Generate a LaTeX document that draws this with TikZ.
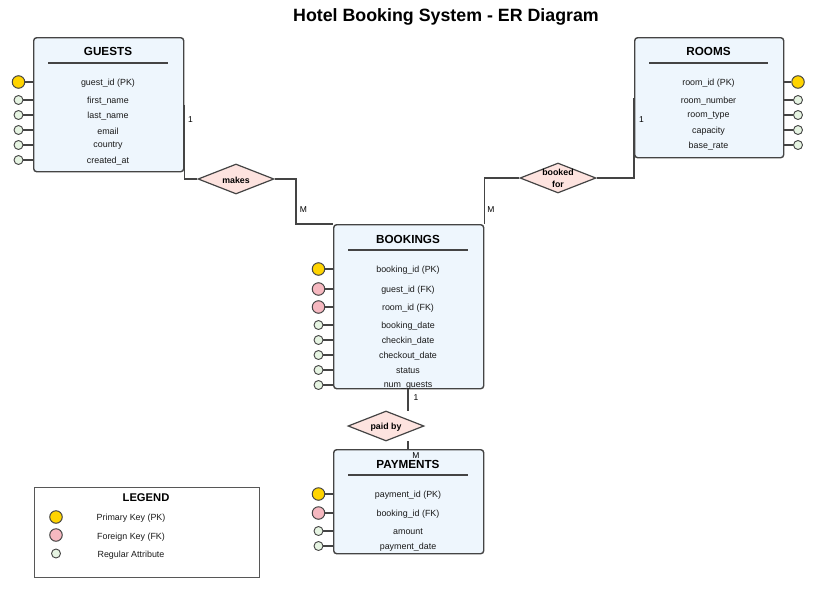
\documentclass[tikz,border=0pt]{standalone}
\usepackage{fontspec}
\setmainfont{Liberation Sans}
\usetikzlibrary{shapes.geometric,calc}
\definecolor{boxfill}{HTML}{EEF6FD}
\definecolor{edge}{HTML}{444444}
\definecolor{relfill}{HTML}{FDE3DF}
\definecolor{pkfill}{HTML}{FFD400}
\definecolor{fkfill}{HTML}{F6B8C0}
\definecolor{rafill}{HTML}{E6F4E2}
\definecolor{txt}{HTML}{1A1A1A}
\begin{document}
\begin{tikzpicture}[x=1pt,y=-1pt,
  entity/.style={draw=edge, fill=boxfill, line width=1.4pt, rounded corners=3pt, anchor=north west, minimum width=150pt, inner sep=0pt},
  etitle/.style={font=\bfseries\fontsize{11.7}{13}\selectfont, text=black, inner sep=0pt},
  sepline/.style={draw=edge, line width=1.2pt},
  attr/.style={font=\fontsize{8.9}{10}\selectfont, text=txt, inner sep=0pt},
  pkdot/.style={circle, draw=edge, fill=pkfill, line width=1pt, minimum size=12.5pt, inner sep=0pt},
  fkdot/.style={circle, draw=edge, fill=fkfill, line width=1pt, minimum size=12.5pt, inner sep=0pt},
  radot/.style={circle, draw=edge, fill=rafill, line width=0.9pt, minimum size=9pt, inner sep=0pt},
  conn/.style={draw=edge, line width=1.4pt},
  stub/.style={draw=edge, line width=1.2pt},
  rel/.style={diamond, draw=edge, fill=relfill, line width=1.2pt, minimum width=76pt, minimum height=30pt, inner sep=0pt},
  reltext/.style={font=\bfseries\fontsize{8.8}{12.5}\selectfont, align=center, inner sep=0pt},
  card/.style={font=\fontsize{8.5}{10}\selectfont, text=black, inner sep=0pt}
]
\useasboundingbox (0,0) rectangle (840,600);

% Title
\node[font=\bfseries\fontsize{17.8}{20}\selectfont, inner sep=0pt] (title) at (446,16.5) {Hotel Booking System - ER Diagram};

% ---------------- relationships (behind) ----------------
\node[rel] (makes) at (236,179) {};
\node[reltext] (makesT) at (236,180) {makes};
\node[rel] (booked) at (558,178) {};
\node[reltext] (bookedT) at (558,178.5) {booked\\for};
\node[rel] (paid) at (386,426) {};
\node[reltext] (paidT) at (386,427) {paid by};

% ---------------- GUESTS ----------------
\node[entity, minimum height=134pt] (guests) at (33,37) {};
\node[etitle] (guestsT) at (108,51.5) {GUESTS};
\draw[sepline] (48,63) -- (168,63);
\node[attr] (g1) at (108,83) {guest\_id (PK)};
\node[attr] (g2) at (108,101) {first\_name};
\node[attr] (g3) at (108,116) {last\_name};
\node[attr] (g4) at (108,131) {email};
\node[attr] (g5) at (108,146) {country};
\node[attr] (g6) at (108,161) {created\_at};
\node[pkdot] (gc1) at (18.5,82) {};
\node[radot] (gc2) at (18.5,100) {};
\node[radot] (gc3) at (18.5,115) {};
\node[radot] (gc4) at (18.5,130) {};
\node[radot] (gc5) at (18.5,145) {};
\node[radot] (gc6) at (18.5,160) {};
\foreach \c in {gc1,gc2,gc3,gc4,gc5,gc6} \draw[stub] (\c) -- (\c -| guests.west);

% ---------------- ROOMS ----------------
\node[entity, minimum width=149pt, minimum height=120pt] (rooms) at (634,37) {};
\node[etitle] (roomsT) at (708.5,51.5) {ROOMS};
\draw[sepline] (649,63) -- (768,63);
\node[attr] (r1) at (708.5,83) {room\_id (PK)};
\node[attr] (r2) at (708.5,101) {room\_number};
\node[attr] (r3) at (708.5,116) {room\_type};
\node[attr] (r4) at (708.5,131) {capacity};
\node[attr] (r5) at (708.5,146) {base\_rate};
\node[pkdot] (rc1) at (798,82) {};
\node[radot] (rc2) at (798,100) {};
\node[radot] (rc3) at (798,115) {};
\node[radot] (rc4) at (798,130) {};
\node[radot] (rc5) at (798,145) {};
\foreach \c in {rc1,rc2,rc3,rc4,rc5} \draw[stub] (\c) -- (\c -| rooms.east);

% ---------------- BOOKINGS ----------------
\node[entity, minimum height=164pt] (bookings) at (333,224) {};
\node[etitle] (bookingsT) at (408,239.5) {BOOKINGS};
\draw[sepline] (348,250) -- (468,250);
\node[attr] (b1) at (408,270) {booking\_id (PK)};
\node[attr] (b2) at (408,290) {guest\_id (FK)};
\node[attr] (b3) at (408,308) {room\_id (FK)};
\node[attr] (b4) at (408,326) {booking\_date};
\node[attr] (b5) at (408,341) {checkin\_date};
\node[attr] (b6) at (408,356) {checkout\_date};
\node[attr] (b7) at (408,371) {status};
\node[attr] (b8) at (408,386) {num\_guests};
\node[pkdot] (bc1) at (318.5,269) {};
\node[fkdot] (bc2) at (318.5,289) {};
\node[fkdot] (bc3) at (318.5,307) {};
\node[radot] (bc4) at (318.5,325) {};
\node[radot] (bc5) at (318.5,340) {};
\node[radot] (bc6) at (318.5,355) {};
\node[radot] (bc7) at (318.5,370) {};
\node[radot] (bc8) at (318.5,385) {};
\foreach \c in {bc1,bc2,bc3,bc4,bc5,bc6,bc7,bc8} \draw[stub] (\c) -- (\c -| bookings.west);

% ---------------- PAYMENTS ----------------
\node[entity, minimum height=104pt] (payments) at (333,449) {};
\node[etitle] (paymentsT) at (408,464.5) {PAYMENTS};
\draw[sepline] (348,475) -- (468,475);
\node[attr] (p1) at (408,495) {payment\_id (PK)};
\node[attr] (p2) at (408,514) {booking\_id (FK)};
\node[attr] (p3) at (408,532) {amount};
\node[attr] (p4) at (408,547) {payment\_date};
\node[pkdot] (pc1) at (318.5,494) {};
\node[fkdot] (pc2) at (318.5,513) {};
\node[radot] (pc3) at (318.5,531) {};
\node[radot] (pc4) at (318.5,546) {};
\foreach \c in {pc1,pc2,pc3,pc4} \draw[stub] (\c) -- (\c -| payments.west);

% ---------------- connectors ----------------
\coordinate (mk) at (296,179);
\draw[conn] (guests.east) |- (makes.west);
\draw[conn] (makes.east) -- (mk) |- (bookings.north west);
\draw[conn] (rooms.west) |- (booked.east);
\draw[conn] (booked.west) -| (bookings.north east);
\coordinate (pd1) at (408,411);
\coordinate (pd2) at (408,441);
\draw[conn] (pd1 |- bookings.south) -- (pd1);
\draw[conn] (pd2) -- (pd2 |- payments.north);

% cardinalities
\node[card] (c1) at (190.5,120) {1};
\node[card] (c2) at (303.5,210) {M};
\node[card] (c3) at (641.5,120) {1};
\node[card] (c4) at (491,210) {M};
\node[card] (c5) at (416,397.5) {1};
\node[card] (c6) at (416,456) {M};

% ---------------- LEGEND ----------------
\node[draw=edge!90, line width=1pt, minimum width=225pt, minimum height=90pt, anchor=north west, inner sep=0pt] (legend) at (33.5,486.5) {};
\node[etitle, font=\bfseries\fontsize{11.2}{12}\selectfont] (legT) at (146,497.5) {LEGEND};
\node[pkdot] (l1) at (56,517) {};
\node[fkdot] (l2) at (56,535) {};
\node[radot] (l3) at (56,553.5) {};
\node[attr, font=\fontsize{8.9}{10}\selectfont] (lt1) at (131,518) {Primary Key (PK)};
\node[attr, font=\fontsize{8.9}{10}\selectfont] (lt2) at (131,537) {Foreign Key (FK)};
\node[attr, font=\fontsize{8.9}{10}\selectfont] (lt3) at (131,555) {Regular Attribute};
\end{tikzpicture}
\end{document}
